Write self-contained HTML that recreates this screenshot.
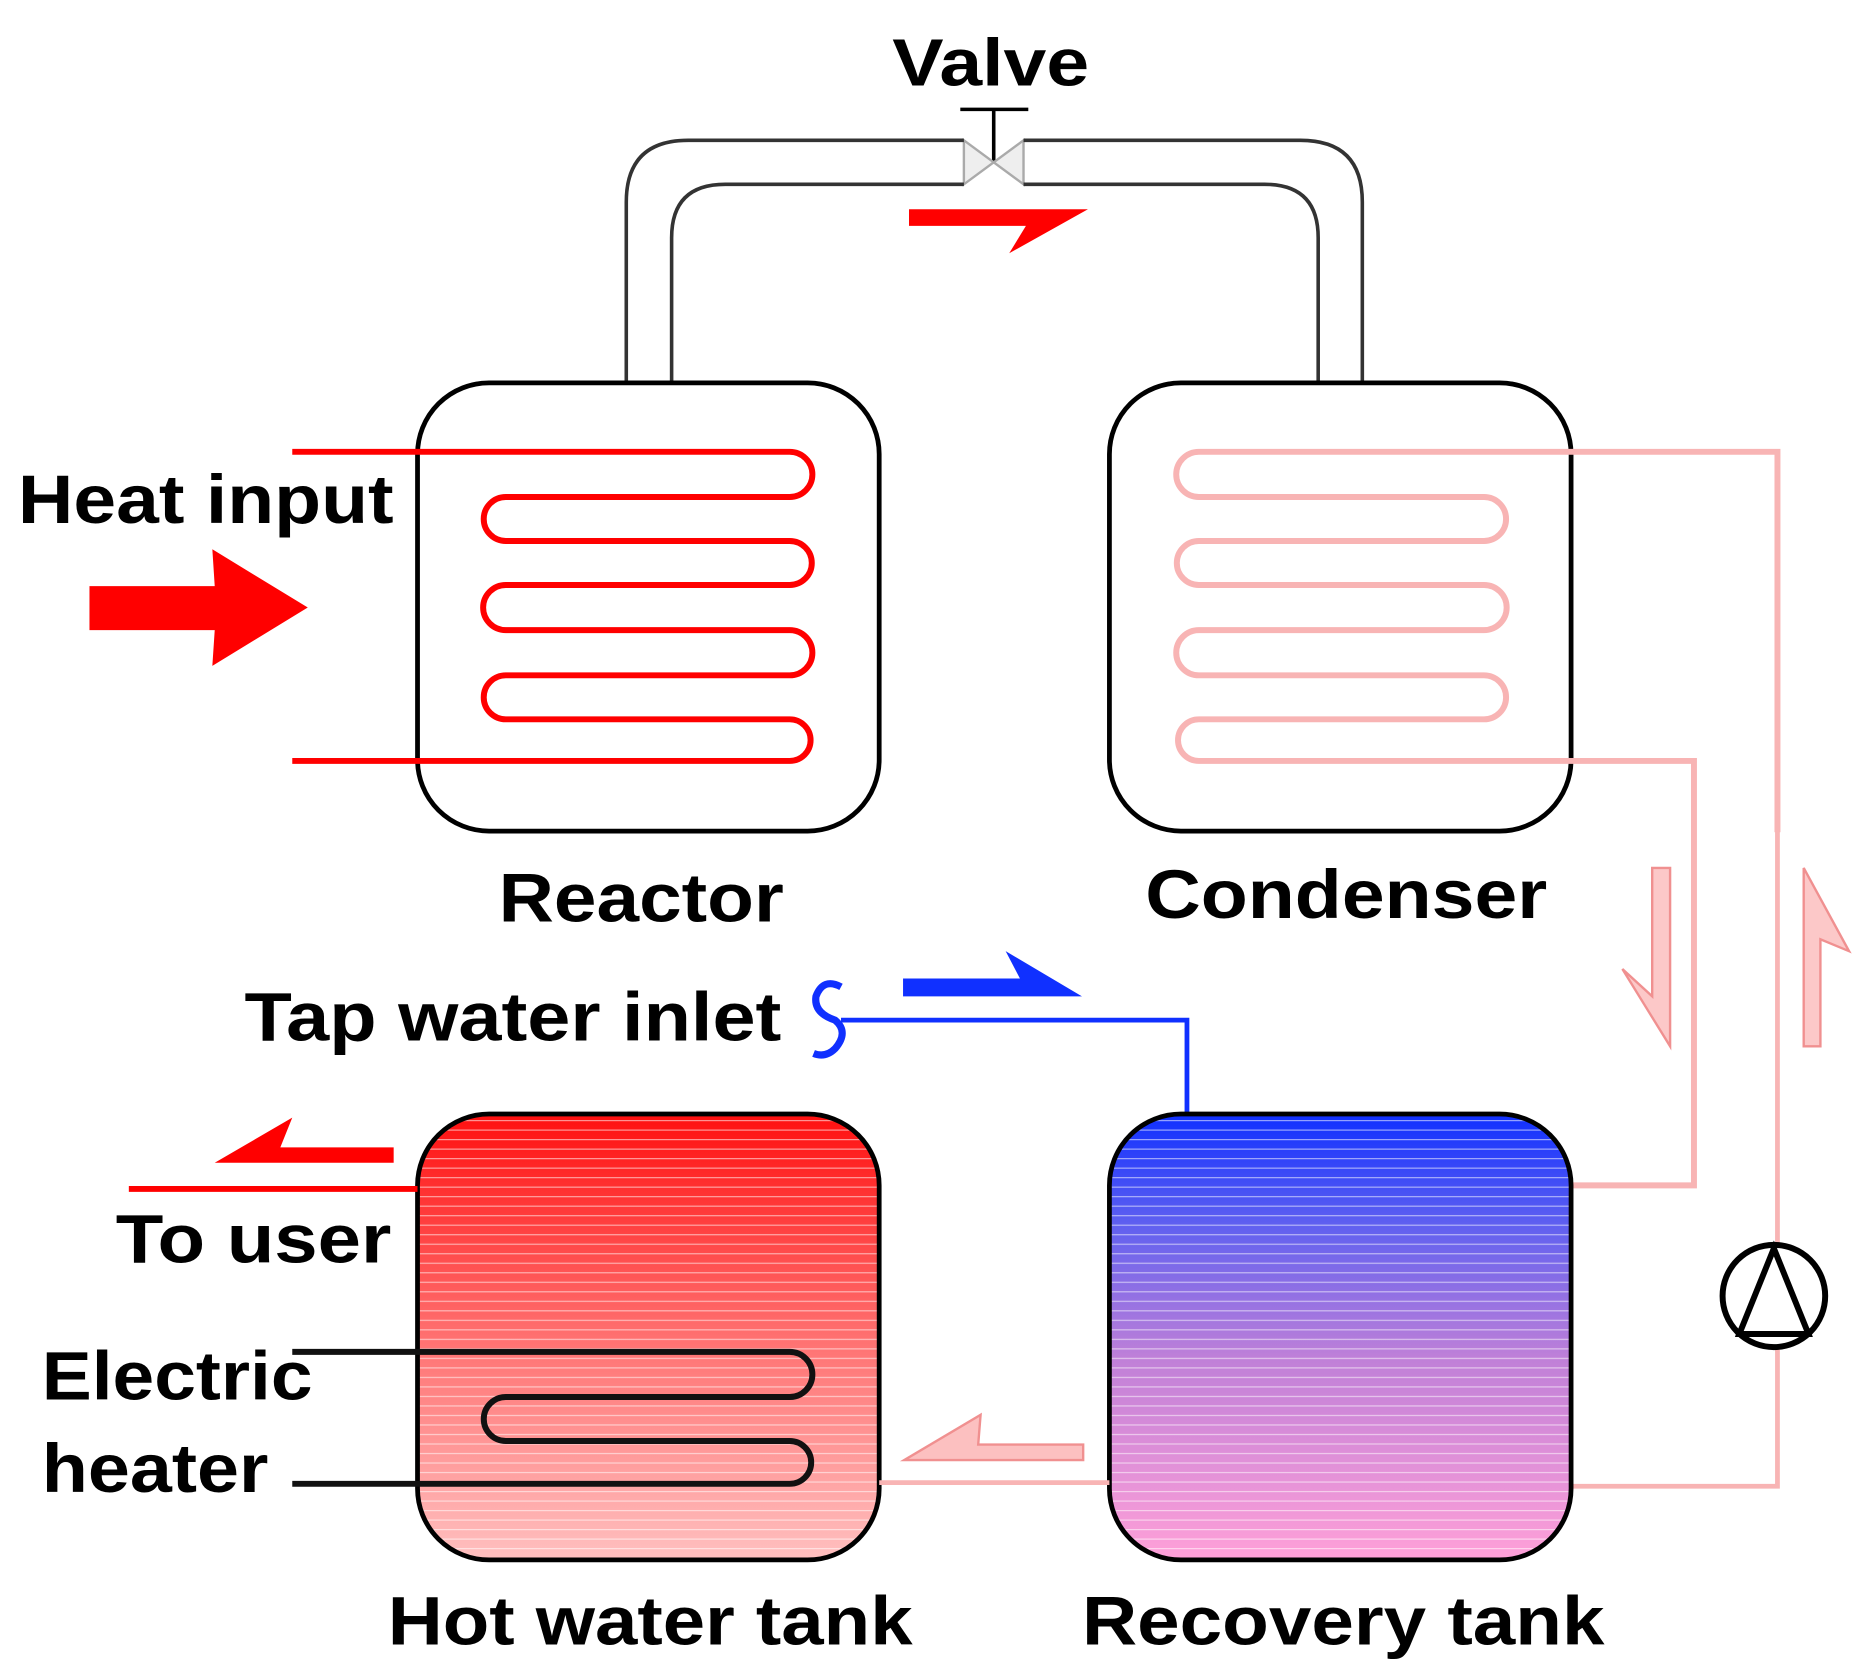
<!DOCTYPE html>
<html><head><meta charset="utf-8"><style>html,body{margin:0;padding:0;background:#fff}svg{display:block}</style></head><body>
<svg width="1855" height="1680" viewBox="0 0 1555 1413" preserveAspectRatio="none" xmlns="http://www.w3.org/2000/svg" font-family="Liberation Sans, Arial, sans-serif" font-weight="bold">
<defs>
<linearGradient id="hot" x1="0" y1="0" x2="0" y2="1"><stop offset="0" stop-color="#ff1010"/><stop offset="0.5" stop-color="#ff7070"/><stop offset="1" stop-color="#ffc0c0"/></linearGradient>
<linearGradient id="rec" x1="0" y1="0" x2="0" y2="1"><stop offset="0" stop-color="#1030ff"/><stop offset="0.25" stop-color="#6060f0"/><stop offset="0.55" stop-color="#c080d8"/><stop offset="1" stop-color="#ffa0d8"/></linearGradient>
<pattern id="str" width="10" height="8" patternUnits="userSpaceOnUse"><rect width="10" height="8" fill="none"/><rect y="6" width="10" height="1" fill="#fff" opacity="0.55"/></pattern>
</defs>
<text x="748" y="72" font-size="56" textLength="165" lengthAdjust="spacingAndGlyphs">Valve</text>
<line x1="805" y1="92" x2="862" y2="92" stroke="#000" stroke-width="3"/>
<line x1="833" y1="92" x2="833" y2="136" stroke="#000" stroke-width="3"/>
<polygon points="808,118 858,155 858,118 808,155" fill="#eee" stroke="#aaa" stroke-width="2"/>
<path d="M525,322 V170 Q525,118 577,118 H808 M858,118 H1090 Q1142,118 1142,170 V322" fill="none" stroke="#333" stroke-width="3"/>
<path d="M563,322 V200 Q563,155 608,155 H808 M858,155 H1060 Q1105,155 1105,200 V322" fill="none" stroke="#333" stroke-width="3"/>
<polygon points="762,176 912,176 846,213 860,190 762,190" fill="#f00"/>
<rect x="350" y="322" width="387" height="377" rx="60" fill="#fff" stroke="#000" stroke-width="4"/>
<path d="M245,380 H662 A19,19 0 0 1 662,418 H424 A18.5,18.5 0 0 0 424,455 H662 A18.5,18.5 0 0 1 662,492 H424 A19,19 0 0 0 424,530 H662 A19,19 0 0 1 662,568 H424 A18.5,18.5 0 0 0 424,605 H662 A17.5,17.5 0 0 1 662,640 H245" fill="none" stroke="#f00" stroke-width="5"/>
<rect x="930" y="322" width="387" height="377" rx="60" fill="#fff" stroke="#000" stroke-width="4"/>
<path d="M1490,700 V380 H1005 A19,19 0 0 0 1005,418 H1244 A18.5,18.5 0 0 1 1244,455 H1005 A18.5,18.5 0 0 0 1005,492 H1244 A19,19 0 0 1 1244,530 H1005 A19,19 0 0 0 1005,568 H1244 A18.5,18.5 0 0 1 1244,605 H1005 A17.5,17.5 0 0 0 1005,640 H1420 V997 H1317" fill="none" stroke="#f8b4b4" stroke-width="5"/>
<path d="M1490,690 V1250 H1317" fill="none" stroke="#f8b4b4" stroke-width="4"/>
<text x="418" y="775" font-size="58" textLength="239" lengthAdjust="spacingAndGlyphs">Reactor</text>
<text x="960" y="772" font-size="58" textLength="337" lengthAdjust="spacingAndGlyphs">Condenser</text>
<text x="15" y="440" font-size="58" textLength="315" lengthAdjust="spacingAndGlyphs">Heat input</text>
<polygon points="75,493 180,493 178,462 258,511 178,560 180,530 75,530" fill="#f00"/>
<text x="205" y="875" font-size="58" textLength="450" lengthAdjust="spacingAndGlyphs">Tap water inlet</text>
<path d="M705,830 Q690,822 684,838 Q682,852 700,858 Q712,868 700,882 Q692,890 682,886" fill="none" stroke="#1030ff" stroke-width="6"/>
<path d="M705,858 H995 V940" fill="none" stroke="#1030ff" stroke-width="4"/>
<polygon points="757,823 855,823 843,800 907,838 757,838" fill="#1030ff"/>
<polygon points="1385,730 1400,730 1400,880 1360,815 1385,838" fill="#fcc8c8" stroke="#f09090" stroke-width="2"/>
<polygon points="1512,880 1526,880 1526,790 1550,800 1512,730" fill="#fcc8c8" stroke="#f09090" stroke-width="2"/>
<circle cx="1487" cy="1090" r="43" fill="#fff" stroke="#000" stroke-width="5"/>
<polygon points="1487,1050 1458,1122 1516,1122" fill="none" stroke="#000" stroke-width="5"/>
<rect x="350" y="937" width="387" height="375" rx="60" fill="url(#hot)"/>
<rect x="350" y="937" width="387" height="375" rx="60" fill="url(#str)" stroke="#000" stroke-width="4"/>
<rect x="930" y="937" width="387" height="375" rx="60" fill="url(#rec)"/>
<rect x="930" y="937" width="387" height="375" rx="60" fill="url(#str)" stroke="#000" stroke-width="4"/>
<line x1="108" y1="1000" x2="350" y2="1000" stroke="#f00" stroke-width="5"/>
<polygon points="330,965 235,965 245,940 180,978 330,978" fill="#f00"/>
<text x="97" y="1062" font-size="58" textLength="231" lengthAdjust="spacingAndGlyphs">To user</text>
<path d="M245,1137 H662 A19,19 0 0 1 662,1175 H424 A18.5,18.5 0 0 0 424,1212 H662 A18,18 0 0 1 662,1248 H245" fill="none" stroke="#111" stroke-width="5"/>
<text x="35" y="1177" font-size="58" textLength="227" lengthAdjust="spacingAndGlyphs">Electric</text>
<text x="35" y="1255" font-size="58" textLength="190" lengthAdjust="spacingAndGlyphs">heater</text>
<line x1="737" y1="1247" x2="930" y2="1247" stroke="#f8b4b4" stroke-width="4"/>
<polygon points="908,1215 820,1215 822,1190 758,1228 908,1228" fill="#fcc0c0" stroke="#f09090" stroke-width="2"/>
<text x="325" y="1383" font-size="58" textLength="440" lengthAdjust="spacingAndGlyphs">Hot water tank</text>
<text x="907" y="1383" font-size="58" textLength="438" lengthAdjust="spacingAndGlyphs">Recovery tank</text>
</svg>
</body></html>
